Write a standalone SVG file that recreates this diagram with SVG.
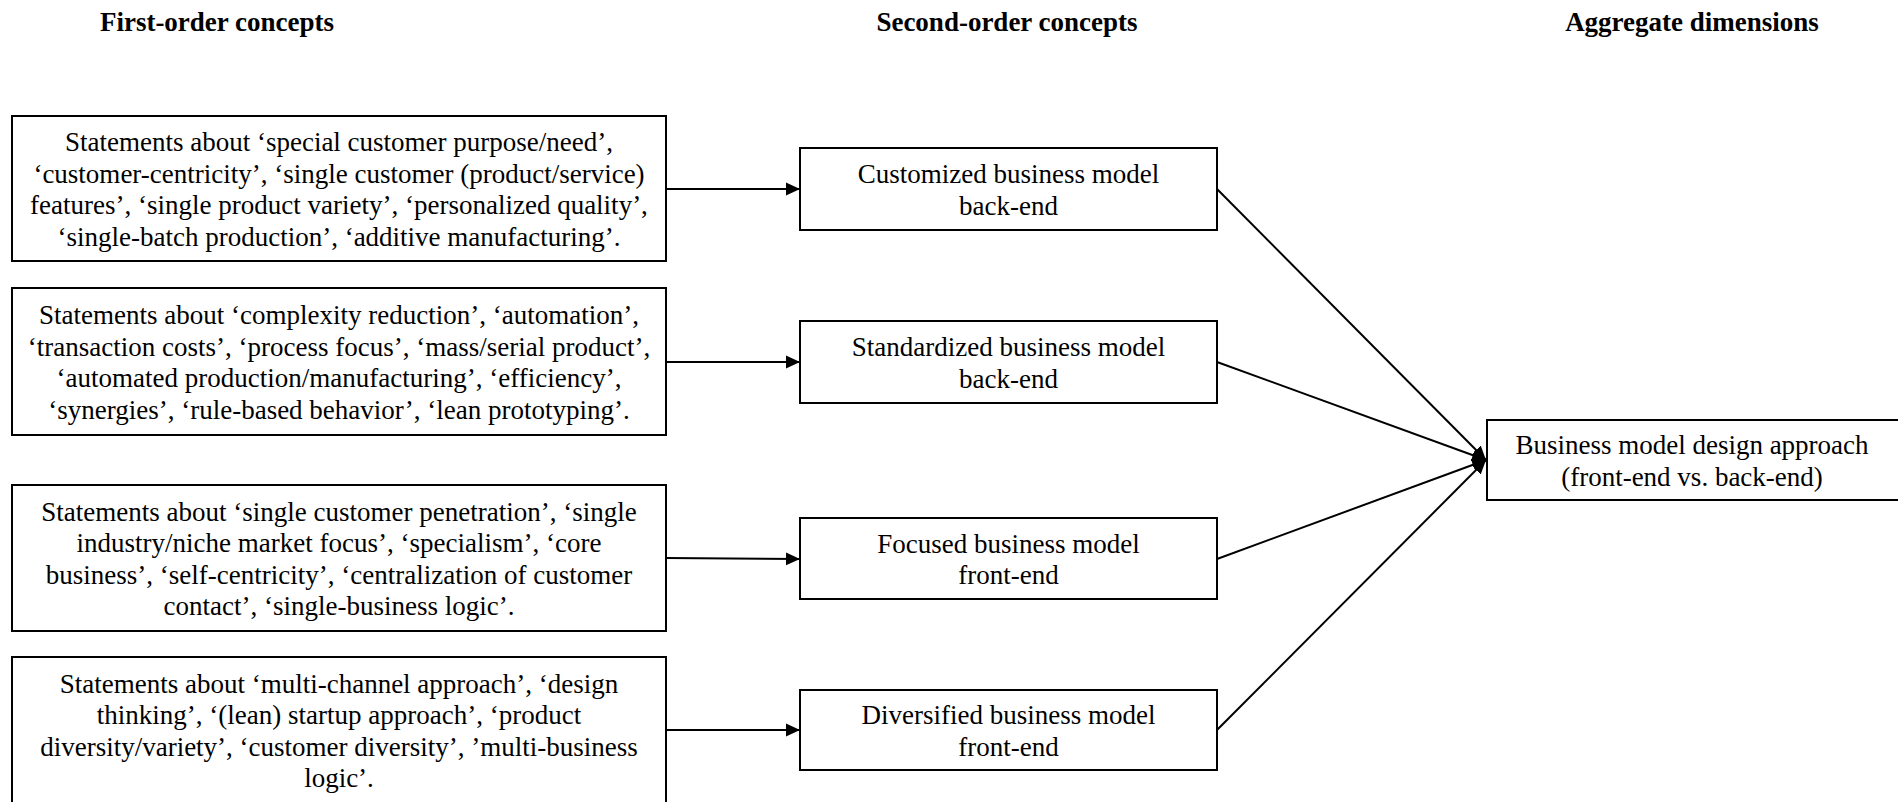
<svg xmlns="http://www.w3.org/2000/svg" width="1898" height="802" viewBox="0 0 1898 802">
  <defs>
    <style>
      .box { fill: #ffffff; stroke: #000000; stroke-width: 2; }
      .txt { font-family: "Liberation Serif", "Times New Roman", serif; font-size: 27px; fill: #000000; text-anchor: middle; }
      .head { font-family: "Liberation Serif", "Times New Roman", serif; font-size: 27px; font-weight: bold; fill: #000000; text-anchor: middle; }
      .link { stroke: #000000; stroke-width: 2; fill: none; marker-end: url(#arrow); }
    </style>
    <marker id="arrow" markerUnits="userSpaceOnUse" markerWidth="14" markerHeight="14" viewBox="0 0 13 12" refX="13" refY="6" orient="auto">
      <path d="M0,0 L13,6 L0,12 Z" fill="#000000"/>
    </marker>
  </defs>

  <rect width="1898" height="802" fill="#ffffff"/>

  <!-- column headings -->
  <g id="headings">
    <text class="head" x="217" y="31">First-order concepts</text>
    <text class="head" x="1007" y="31">Second-order concepts</text>
    <text class="head" x="1692" y="31">Aggregate dimensions</text>
  </g>

  <!-- first-order concepts -->
  <g id="fo-customized">
    <rect class="box" x="12" y="116" width="654" height="145"/>
    <text class="txt" x="339" y="151">Statements about ‘special customer purpose/need’,</text>
    <text class="txt" x="339" y="183">‘customer-centricity’, ‘single customer (product/service)</text>
    <text class="txt" x="339" y="214">features’, ‘single product variety’, ‘personalized quality’,</text>
    <text class="txt" x="339" y="246">‘single-batch production’, ‘additive manufacturing’.</text>
  </g>
  <g id="fo-standardized">
    <rect class="box" x="12" y="288" width="654" height="147"/>
    <text class="txt" x="339" y="324">Statements about ‘complexity reduction’, ‘automation’,</text>
    <text class="txt" x="339" y="356">‘transaction costs’, ‘process focus’, ‘mass/serial product’,</text>
    <text class="txt" x="339" y="387">‘automated production/manufacturing’, ‘efficiency’,</text>
    <text class="txt" x="339" y="419">‘synergies’, ‘rule-based behavior’, ‘lean prototyping’.</text>
  </g>
  <g id="fo-focused">
    <rect class="box" x="12" y="485" width="654" height="146"/>
    <text class="txt" x="339" y="521">Statements about ‘single customer penetration’, ‘single</text>
    <text class="txt" x="339" y="552">industry/niche market focus’, ‘specialism’, ‘core</text>
    <text class="txt" x="339" y="584">business’, ‘self-centricity’, ‘centralization of customer</text>
    <text class="txt" x="339" y="615">contact’, ‘single-business logic’.</text>
  </g>
  <g id="fo-diversified">
    <rect class="box" x="12" y="657" width="654" height="147"/>
    <text class="txt" x="339" y="693">Statements about ‘multi-channel approach’, ‘design</text>
    <text class="txt" x="339" y="724">thinking’, ‘(lean) startup approach’, ‘product</text>
    <text class="txt" x="339" y="756">diversity/variety’, ‘customer diversity’, ’multi-business</text>
    <text class="txt" x="339" y="787">logic’.</text>
  </g>

  <!-- second-order concepts -->
  <g id="so-customized">
    <rect class="box" x="800" y="148" width="417" height="82"/>
    <text class="txt" x="1008.5" y="183">Customized business model</text>
    <text class="txt" x="1008.5" y="215">back-end</text>
  </g>
  <g id="so-standardized">
    <rect class="box" x="800" y="321" width="417" height="82"/>
    <text class="txt" x="1008.5" y="356">Standardized business model</text>
    <text class="txt" x="1008.5" y="388">back-end</text>
  </g>
  <g id="so-focused">
    <rect class="box" x="800" y="518" width="417" height="81"/>
    <text class="txt" x="1008.5" y="553">Focused business model</text>
    <text class="txt" x="1008.5" y="584">front-end</text>
  </g>
  <g id="so-diversified">
    <rect class="box" x="800" y="690" width="417" height="80"/>
    <text class="txt" x="1008.5" y="724">Diversified business model</text>
    <text class="txt" x="1008.5" y="756">front-end</text>
  </g>

  <!-- aggregate dimension -->
  <g id="ad-design-approach">
    <rect class="box" x="1487" y="420" width="420" height="80"/>
    <text class="txt" x="1692" y="454">Business model design approach</text>
    <text class="txt" x="1692" y="486">(front-end vs. back-end)</text>
  </g>

  <!-- connectors -->
  <g id="connectors">
    <line class="link" x1="666" y1="189" x2="800" y2="189"/>
    <line class="link" x1="666" y1="362" x2="800" y2="362"/>
    <line class="link" x1="666" y1="558" x2="800" y2="559"/>
    <line class="link" x1="666" y1="730" x2="800" y2="730"/>
    <line class="link" x1="1217" y1="189" x2="1486" y2="460"/>
    <line class="link" x1="1217" y1="362" x2="1486" y2="460"/>
    <line class="link" x1="1217" y1="559" x2="1486" y2="460"/>
    <line class="link" x1="1217" y1="730" x2="1486" y2="460"/>
  </g>
</svg>
